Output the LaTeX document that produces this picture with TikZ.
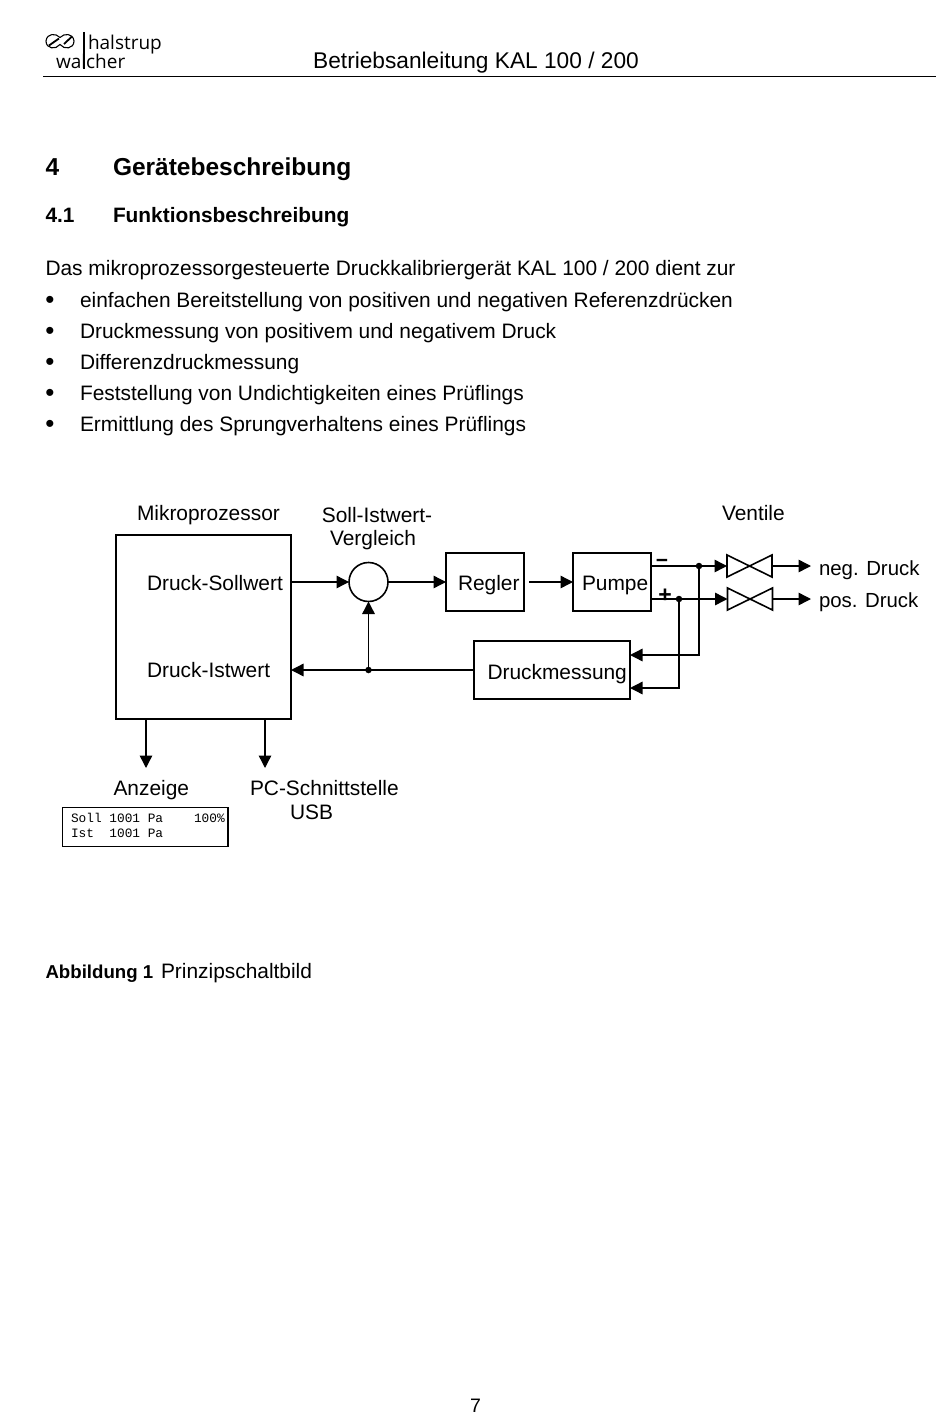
\documentclass[tikz,border=0pt]{standalone}
\usepackage{fontspec}
\setmainfont{Liberation Sans}
\newfontfamily\monof{Liberation Mono}
\newfontfamily\logof{Open Sans}
\usetikzlibrary{arrows.meta}
\tikzset{
  every node/.style={outer sep=0pt},
  txt/.style={anchor=base west,inner sep=0pt,font=\fontsize{20.9}{24}\selectfont},
  bul/.style={anchor=base,inner sep=0pt,font=\fontsize{26}{24}\selectfont},
  lab/.style={anchor=base west,inner sep=0pt,font=\fontsize{20.9}{24}\selectfont},
  labc/.style={anchor=base,inner sep=0pt,font=\fontsize{20.9}{24}\selectfont},
  box/.style={draw,line width=1.6pt,inner sep=0pt,anchor=north west},
  conn/.style={line width=1.4pt,-{Triangle[length=12.5pt,width=12.5pt]}},
  dot/.style={circle,fill,inner sep=0pt,minimum size=6.5pt},
  valve/.style={inner sep=0pt,minimum width=45pt,minimum height=22pt},
  valvel/.style={line width=1.6pt,line join=miter},
  lcd/.style={anchor=base west,inner sep=0pt,font=\monof\fontsize{12.8}{14}\selectfont},
  logot/.style={anchor=base west,inner sep=0pt,font=\logof\fontsize{19}{20}\selectfont}
}
\begin{document}
\begin{tikzpicture}[x=1pt,y=-1pt]
\useasboundingbox (0,0) rectangle (950,1420);
% header
\node[logot] (hal) at (88,50) {halstrup};
\node[logot] (wal) at (56,69) {walcher};
\draw[line width=1.3pt] (84,32) -- (84,69);
\draw[line width=1.1pt] (60,37.5) .. controls (56,33) and (47,33) .. (46,41) .. controls (46,49) and (56,50) .. (60,44.5) .. controls (64,50) and (74,49) .. (74,41) .. controls (73,33) and (64,33) .. (60,37.5);
\draw[line width=1.8pt] (49,45.5) -- (59,38.5);
\draw[line width=1.8pt] (64,44) -- (72,36.5);
\draw[line width=1.2pt] (43,76.5) -- (936,76.5);
\node[anchor=base,inner sep=0pt,font=\fontsize{22.7}{26}\selectfont] (title) at (476,69) {Betriebsanleitung KAL 100 / 200};
% headings
\node[anchor=base west,inner sep=0pt,font=\bfseries\fontsize{24.5}{28}\selectfont] (h1n) at (45.5,175.5) {4};
\node[anchor=base west,inner sep=0pt,font=\bfseries\fontsize{24.5}{28}\selectfont] (h1) at (113,175.5) {Gerätebeschreibung};
\node[anchor=base west,inner sep=0pt,font=\bfseries\fontsize{20.85}{24}\selectfont] (h2n) at (45.5,223) {4.1};
\node[anchor=base west,inner sep=0pt,font=\bfseries\fontsize{20.85}{24}\selectfont] (h2) at (113,223) {Funktionsbeschreibung};
% body
\node[txt] (intro) at (45.5,276) {Das mikroprozessorgesteuerte Druckkalibriergerät KAL 100 / 200 dient zur};
\node[bul] (b1) at (50,308.5) {•};
\node[txt] (t1) at (80,307) {einfachen Bereitstellung von positiven und negativen Referenzdrücken};
\node[bul] (b2) at (50,339.5) {•};
\node[txt] (t2) at (80,338) {Druckmessung von positivem und negativem Druck};
\node[bul] (b3) at (50,370.5) {•};
\node[txt] (t3) at (80,369) {Differenzdruckmessung};
\node[bul] (b4) at (50,401.5) {•};
\node[txt] (t4) at (80,400) {Feststellung von Undichtigkeiten eines Prüflings};
\node[bul] (b5) at (50,432.5) {•};
\node[txt] (t5) at (80,431) {Ermittlung des Sprungverhaltens eines Prüflings};
% diagram boxes
\node[box,minimum width=175pt,minimum height=184pt] (mp) at (116,535) {};
\node[box,minimum width=78pt,minimum height=58pt] (reg) at (446,553) {};
\node[box,minimum width=78pt,minimum height=58pt] (pum) at (573,553) {};
\node[box,minimum width=156pt,minimum height=58pt] (dm) at (474,641) {};
\node[draw,circle,line width=1.6pt,minimum size=39pt,inner sep=0pt] (cmp) at (368.5,582) {};
\node[valve] (v1) at (749.5,566) {};
\node[valve] (v2) at (750,599) {};
\draw[valvel] (v1.north west) -- (v1.south east) -- (v1.north east) -- (v1.south west) -- cycle;
\draw[valvel] (v2.north west) -- (v2.south east) -- (v2.north east) -- (v2.south west) -- cycle;
% labels
\node[lab] (lmp) at (137,520) {Mikroprozessor};
\node[lab] (lsoll) at (147,590) {Druck-Sollwert};
\node[lab] (list) at (147,677) {Druck-Istwert};
\node[labc] (lv1) at (377,522) {Soll-Istwert-};
\node[labc] (lv2) at (373,545) {Vergleich};
\node[lab] (lreg) at (458,590) {Regler};
\node[lab] (lpum) at (582,590) {Pumpe};
\node[lab] (ldm) at (487.5,679) {Druckmessung};
\node[lab] (lven) at (722,520) {Ventile};
\node[lab,font=\fontsize{20.4}{24}\selectfont] (lneg) at (819,575) {neg. Druck};
\node[lab,font=\fontsize{20.4}{24}\selectfont] (lpos) at (819,607) {pos. Druck};
\node[lab] (lanz) at (113.5,795) {Anzeige};
\node[lab] (lpc) at (250,795) {PC-Schnittstelle};
\node[lab] (lusb) at (290,819) {USB};
\node[anchor=base,inner sep=0pt,font=\bfseries\fontsize{21}{24}\selectfont] (lm) at (662,567) {−};
\node[anchor=base,inner sep=0pt,font=\bfseries\fontsize{23}{24}\selectfont] (lp) at (665,602) {+};
% connector endpoints
\coordinate (c1) at (mp.east |- cmp);
\coordinate (r1s) at (529,582);
\coordinate (p1) at (pum.east |- v1);
\coordinate (p2) at (pum.east |- v2);
\node[dot] (d1) at (699,566) {};
\node[dot] (d2) at (679,599) {};
\node[dot] (d3) at (368.5,670) {};
\coordinate (o1) at (811,566);
\coordinate (o2) at (811,599);
\coordinate (i1) at (dm.east |- 0,655);
\coordinate (i2) at (dm.east |- 0,688);
\coordinate (fbe) at (dm.west |- d3);
\coordinate (fbw) at (mp.east |- d3);
\coordinate (a1s) at (146,719);
\coordinate (a1e) at (146,768);
\coordinate (a2s) at (265,719);
\coordinate (a2e) at (265,768);
% connectors
\draw[conn] (c1) -- (cmp.west);
\draw[conn] (cmp.east) -- (reg.west);
\draw[conn] (r1s) -- (pum.west);
\draw[conn] (p1) -- (v1.west);
\draw[conn] (p2) -- (v2.west);
\draw[conn] (v1.east) -- (o1);
\draw[conn] (v2.east) -- (o2);
\draw[conn] (d1) |- (i1);
\draw[conn] (d2) |- (i2);
\draw[conn] (fbe) -- (fbw);
\draw[conn] (d3) -- (cmp.south);
\draw[conn] (a1s) -- (a1e);
\draw[conn] (a2s) -- (a2e);
% display
\node[box,line width=1.2pt,minimum width=165.5pt,minimum height=39pt] (disp) at (62.5,807.5) {};
\node[lcd] (d11) at (71,822) {Soll 1001 Pa};
\node[lcd] (d12) at (194,822) {100\%};
\node[lcd] (d21) at (71,837) {Ist~~1001 Pa};
% caption
\node[anchor=base west,inner sep=0pt,font=\bfseries\fontsize{18.65}{22}\selectfont] (cap1) at (45.5,978) {Abbildung 1};
\node[txt] (cap2) at (161,978) {Prinzipschaltbild};
\node[anchor=base,inner sep=0pt,font=\fontsize{19.5}{22}\selectfont] (pg) at (475.5,1412) {7};
\end{tikzpicture}
\end{document}
